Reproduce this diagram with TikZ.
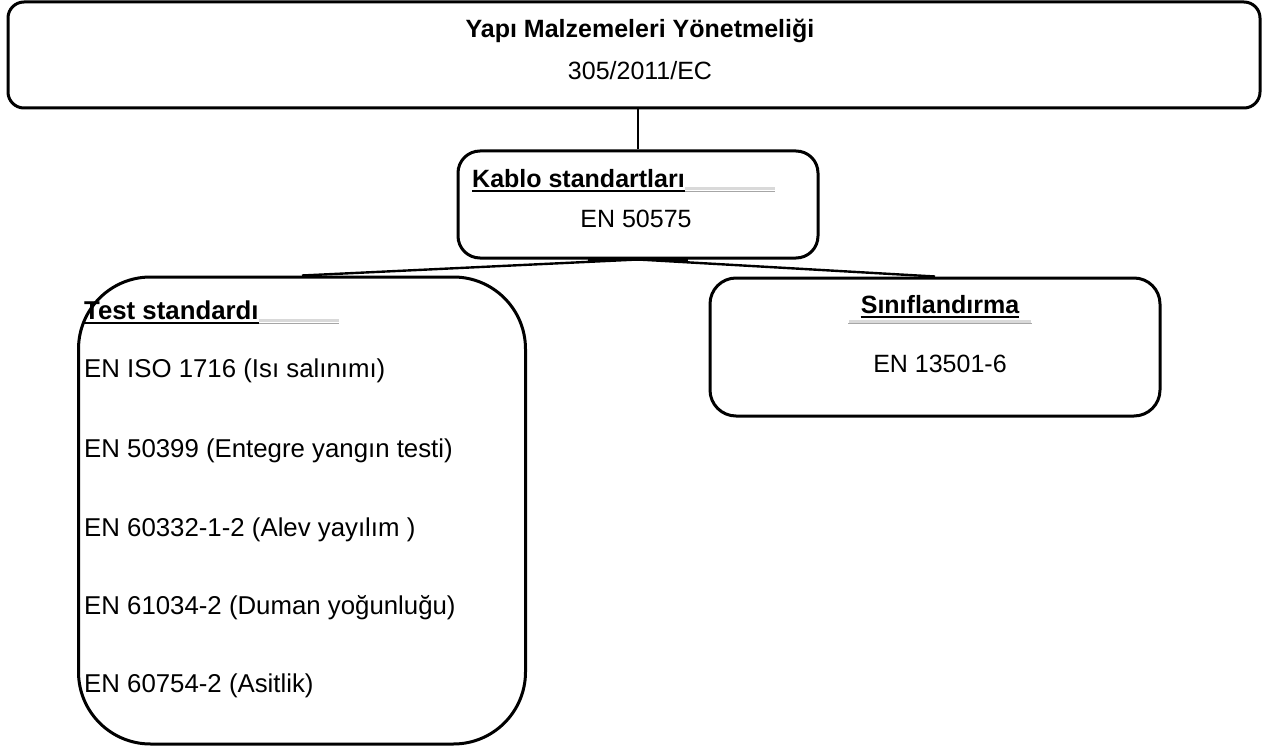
\documentclass[tikz,border=0pt]{standalone}
\usepackage{fontspec}
\setmainfont{Liberation Sans}
\begin{document}
\begin{tikzpicture}[x=1pt,y=-1pt,
  box/.style={draw=black, line width=3pt, fill=white, inner sep=0pt},
  txt/.style={font=\fontsize{25}{30}\selectfont, inner sep=0pt},
  item/.style={font=\fontsize{25.8}{30}\selectfont, inner sep=0pt},
  conn/.style={draw=black, line width=2.4pt},
  uline/.style={draw=black, line width=2pt},
  haze/.style={draw=gray!30, line width=3pt},
  hazeline/.style={draw=gray!70, line width=0.9pt}]
\useasboundingbox[fill=white] (0,0) rectangle (1267,749);

% boxes
\node[box, rounded corners=16pt, minimum width=1252pt, minimum height=106pt] (top) at (634,55) {};
\node[box, rounded corners=22pt, minimum width=360pt, minimum height=107pt] (kablo) at (638,204.5) {};
\node[box, rounded corners=72pt, minimum width=447pt, minimum height=467pt] (test) at (302,510.5) {};
\node[box, rounded corners=26pt, minimum width=450pt, minimum height=138pt] (sinif) at (935,347) {};

% connectors
\draw[conn] (kablo.north) -- (kablo.north |- top.south);
\draw[conn] (kablo.south) -- (test.north);
\draw[conn] (kablo.south) -- (sinif.north);
\draw[conn] ([xshift=-50pt]kablo.south) -- ([xshift=50pt]kablo.south);

% top box texts
\node[txt, anchor=base] (t1) at (640,38) {\bfseries Yapı Malzemeleri Yönetmeliği};
\node[txt, anchor=base] (t2) at (640,80) {305/2011/EC};

% kablo texts
\node[txt, anchor=base west] (k1) at (472,188) {\bfseries Kablo standartları};
\draw[haze] ([yshift=-0.5pt]k1.base east) -- ++(90,0);
\draw[hazeline] ([yshift=-3.5pt]k1.base east) -- ++(90,0);
\draw[uline] ([yshift=-3.5pt]k1.base west) -- ([yshift=-3.5pt]k1.base east);
\node[txt, anchor=base] (k2) at (636,227) {EN 50575};

% test texts
\node[item, anchor=base west] (s0) at (84,319) {\bfseries Test standardı};
\draw[haze] ([yshift=-1pt]s0.base east) -- ++(80,0);
\draw[hazeline] ([yshift=-4pt]s0.base east) -- ++(80,0);
\draw[uline] ([yshift=-4pt]s0.base west) -- ([yshift=-4pt]s0.base east);
\node[item, anchor=base west] (s1) at (84,377) {EN ISO 1716 (Isı salınımı)};
\node[item, anchor=base west] (s2) at (84,457) {EN 50399 (Entegre yangın testi)};
\node[item, anchor=base west] (s3) at (84,536) {EN 60332-1-2 (Alev yayılım )};
\node[item, anchor=base west] (s4) at (84,614) {EN 61034-2 (Duman yoğunluğu)};
\node[item, anchor=base west] (s5) at (84,692) {EN 60754-2 (Asitlik)};

% sinif texts
\node[txt, anchor=base] (c1) at (940,313) {\bfseries Sınıflandırma};
\draw[haze] (849,321) -- (1031,321);
\draw[hazeline] (848,323.5) -- (1032,323.5);
\draw[uline] ([yshift=-4pt]c1.base west) -- ([yshift=-4pt]c1.base east);
\node[txt, anchor=base] (c2) at (940,372) {EN 13501-6};
\end{tikzpicture}
\end{document}
